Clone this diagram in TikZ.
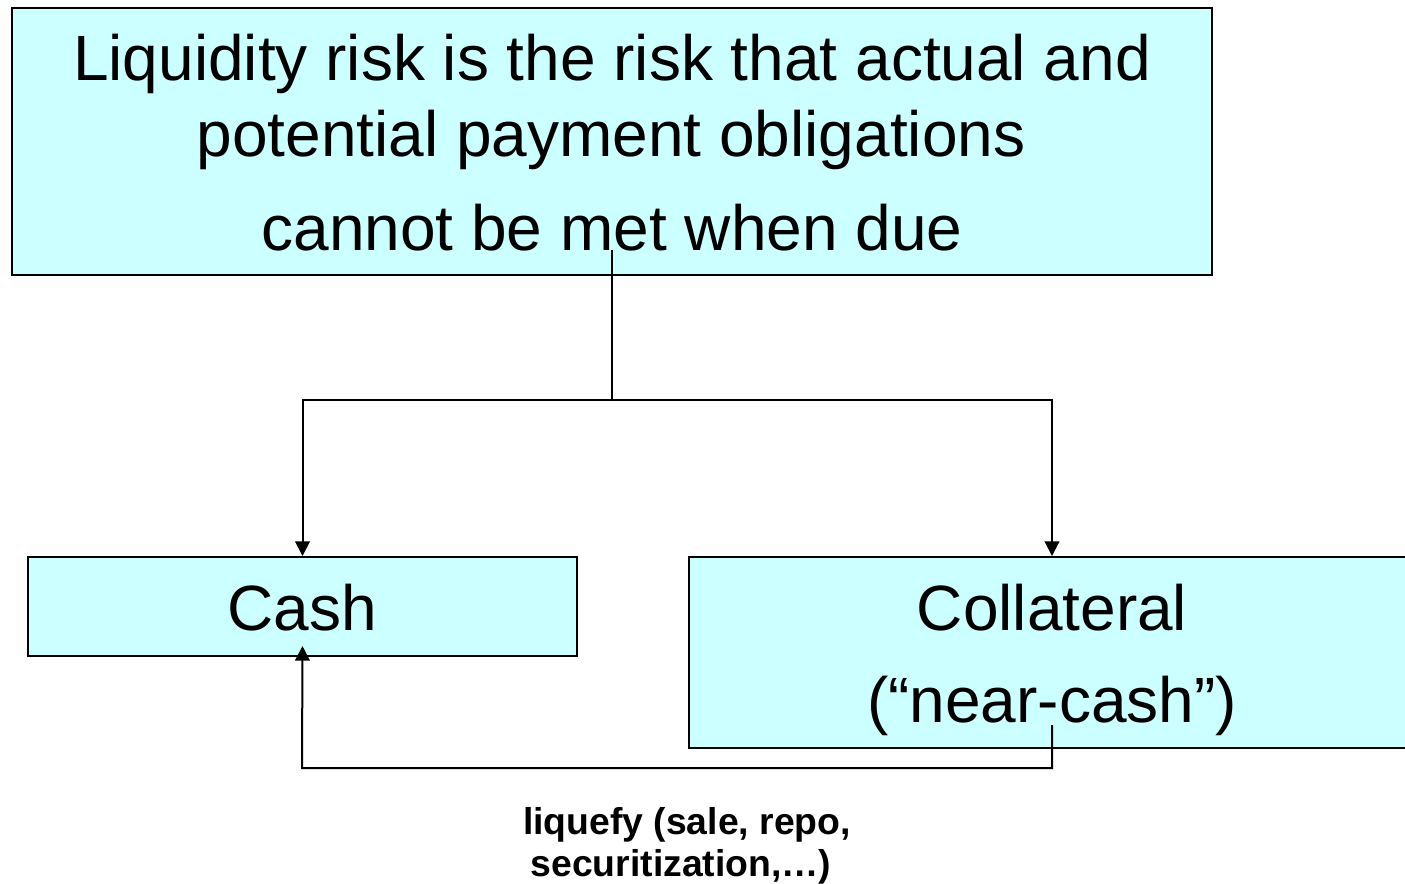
\documentclass[tikz,border=0pt]{standalone}
\usepackage{fontspec}
\setmainfont{Liberation Sans}
\usetikzlibrary{arrows.meta}
\definecolor{boxfill}{HTML}{CCFFFF}
\begin{document}
\begin{tikzpicture}[x=0.75pt,y=-0.75pt,
  box/.style={draw=black,line width=1.5pt,fill=boxfill,rectangle,inner sep=0pt},
  bigtext/.style={inner sep=0pt,anchor=base,font=\fontsize{48}{58}\selectfont},
  smalltext/.style={inner sep=0pt,anchor=base,font=\fontsize{28}{34}\selectfont\bfseries},
  link/.style={line width=1.5pt},
  tip/.style={-{Triangle[length=11pt,width=11pt]}}]
\clip (0,0) rectangle (1405,884);
\fill[white] (0,0) rectangle (1405,884);

% boxes
\node[box,minimum width=900pt,minimum height=200.25pt] (risk) at (612,141.5) {};
\node[box,minimum width=411.75pt,minimum height=74.25pt] (cash) at (302.5,606.5) {};
\node[box,minimum width=548.25pt,minimum height=143.25pt] (coll) at (1054.5,652.5) {};

% texts
\node[bigtext] (l1) at (612,81) {Liquidity risk is the risk that actual and};
\node[bigtext] (l2) at (611,157) {potential payment obligations};
\node[bigtext] (l3) at (612,250) {cannot be met when due};
\node[bigtext] (cashtxt) at (302,630) {Cash};
\node[bigtext] (colltxt) at (1052,630) {Collateral};
\node[bigtext] (neartxt) at (1052,722) {(“near-cash”)};
\node[smalltext] (liq1) at (687,834) {liquefy (sale, repo,};
\node[smalltext] (liq2) at (681,876) {securitization,…)};

% connectors
\coordinate (riskfoot) at (612,250);
\coordinate (split) at (612,400);
\coordinate (collfoot) at (1052,725);
\coordinate (low) at (302,768);
\draw[link] (riskfoot) -- (split);
\draw[link,tip] (split) -| (cash.north);
\draw[link,tip] (split) -| (colltxt |- coll.north);
\draw[link,tip] (collfoot) |- (low) -- ([yshift=8.25pt]cash.south);
\end{tikzpicture}
\end{document}
